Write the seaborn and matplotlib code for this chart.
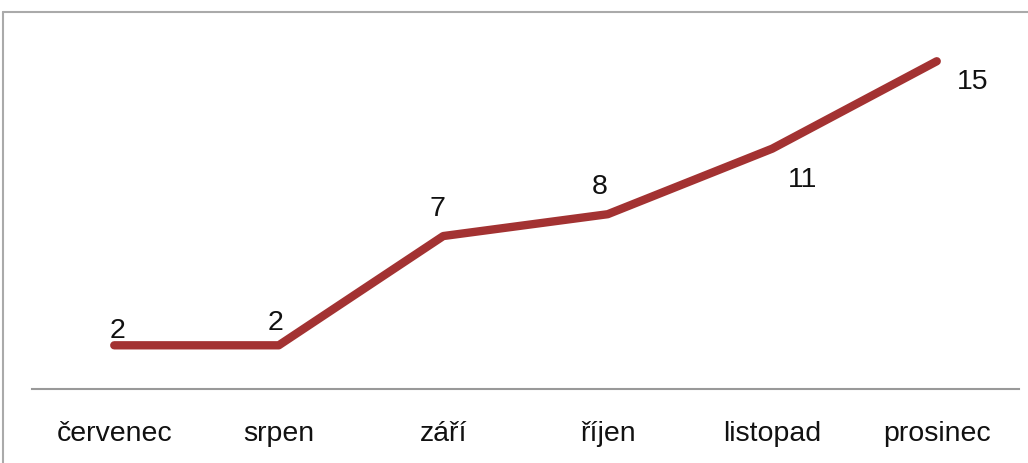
import matplotlib
matplotlib.use("Agg")
import matplotlib.pyplot as plt
import seaborn as sns
import pandas as pd
from matplotlib.lines import Line2D

months = ["červenec", "srpen", "září", "říjen", "listopad", "prosinec"]
values = [2, 2, 7, 8, 11, 15]
# label offsets in points (dx, dy) relative to each point
label_offsets = [(2, 11), (-2, 17), (-4, 20), (-6, 20), (22, -22), (26, -14)]

sns.set_theme(style="white")
plt.rcParams["font.family"] = ["Liberation Sans", "DejaVu Sans"]

fig = plt.figure(figsize=(10.28, 4.64), dpi=100)
ax = fig.add_axes([32 / 1028, (464 - 390) / 464, (1019 - 32) / 1028, (390 - 13) / 464])

df = pd.DataFrame({"month": months, "value": values})
sns.lineplot(data=df, x="month", y="value", ax=ax, sort=False,
             color="#A33232", linewidth=6, solid_capstyle="round",
             solid_joinstyle="round")

ax.set_xlim(-0.5, len(months) - 0.5)
ax.set_ylim(0, 377 / 21.85)
ax.set_xlabel("")
ax.set_ylabel("")
ax.set_yticks([])
ax.set_xticks(range(len(months)))
ax.set_xticklabels(months)
ax.tick_params(axis="x", length=0, pad=22, labelsize=20.5, labelcolor="#111111")
for s in ["top", "right", "left"]:
    ax.spines[s].set_visible(False)
ax.spines["bottom"].set_color("#999999")
ax.spines["bottom"].set_linewidth(1.5)

for i, (v, (dx, dy)) in enumerate(zip(values, label_offsets)):
    ax.annotate(str(v), xy=(i, v), xytext=(dx, dy), textcoords="offset points",
                ha="center", va="center", fontsize=20.5, color="#111111")

# outer frame (top and left)
fig.add_artist(Line2D([3 / 1028, 1.0], [(464 - 13) / 464] * 2, transform=fig.transFigure,
                      color="#AAAAAA", linewidth=1.5))
fig.add_artist(Line2D([3 / 1028] * 2, [0, (464 - 13) / 464], transform=fig.transFigure,
                      color="#AAAAAA", linewidth=1.5))

fig.savefig("out.png", dpi=100)
